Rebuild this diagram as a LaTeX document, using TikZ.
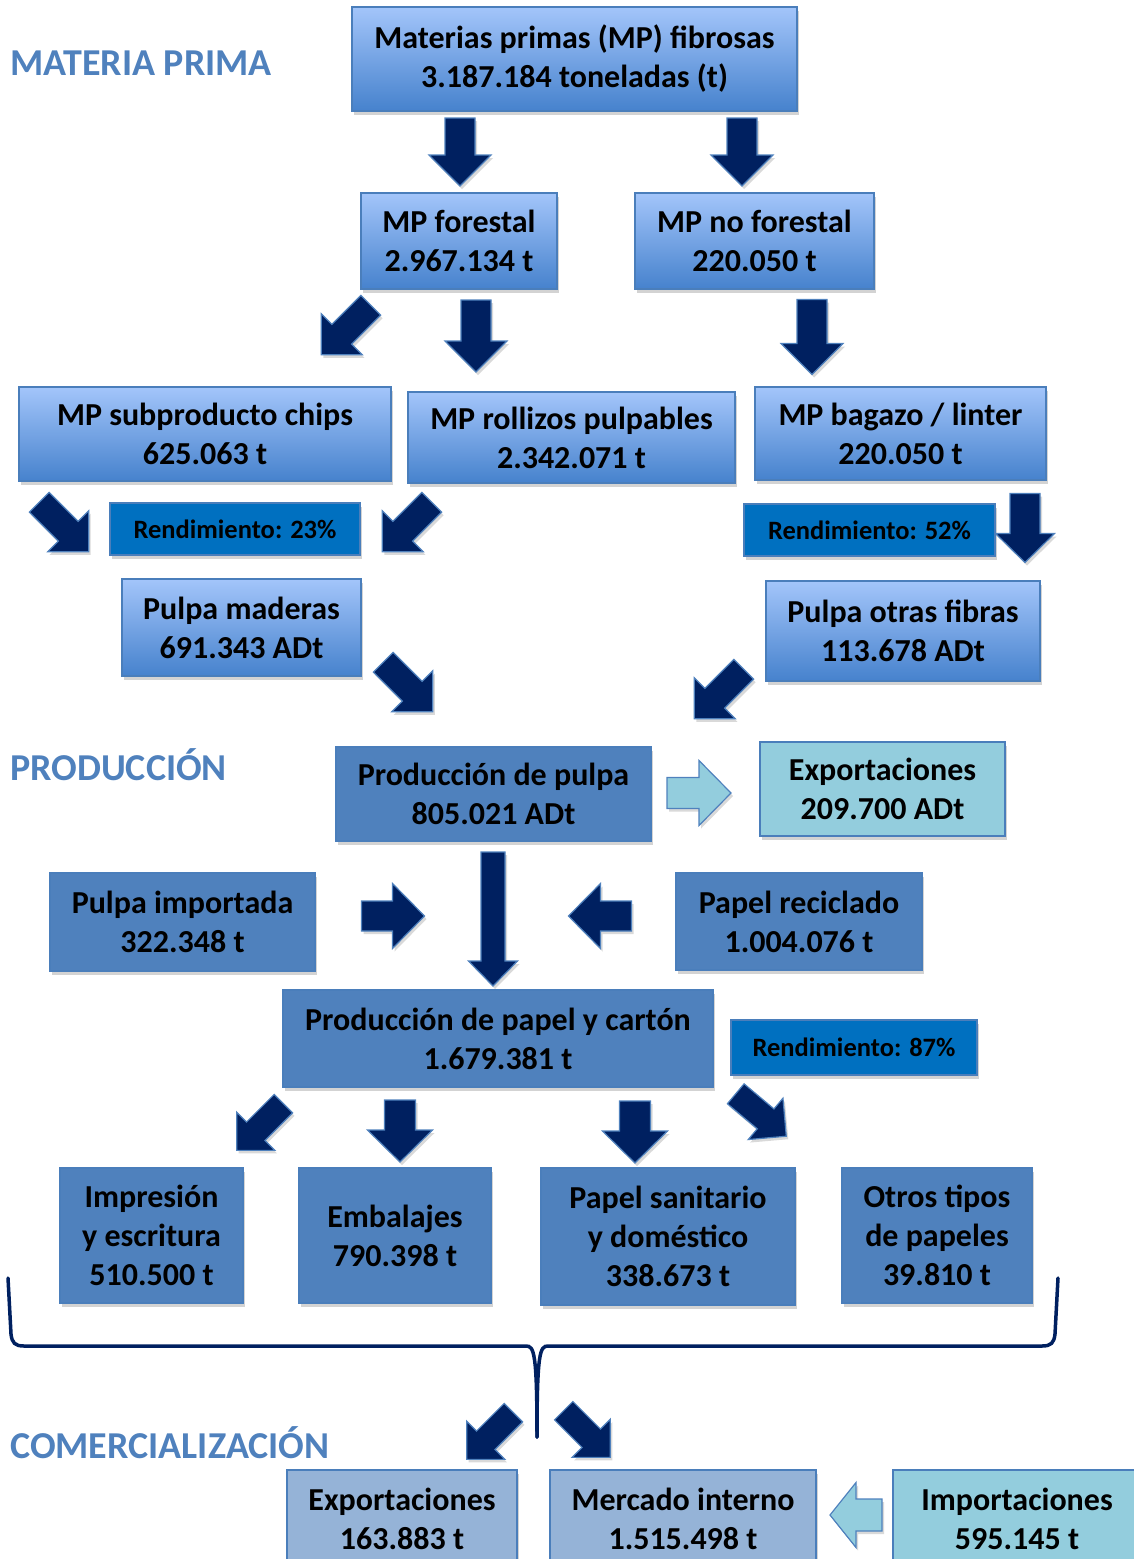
\documentclass[tikz,border=0pt]{standalone}
\usepackage{fontspec}
\setmainfont{Carlito}
\usepackage{tikz}
\usetikzlibrary{shadows}

\definecolor{edgeblue}{HTML}{4A7EBB}
\definecolor{boxblue}{HTML}{4F81BD}
\definecolor{gradtop}{HTML}{A3C5FA}
\definecolor{gradbot}{HTML}{4682CD}
\definecolor{rendblue}{HTML}{0070C0}
\definecolor{lightteal}{HTML}{93CDDD}
\definecolor{greyblue}{HTML}{95B3D7}
\definecolor{navy}{HTML}{002060}

% block arrow: style, centre, angle, length, shaft width, head width, head length
\newcommand{\blockarrow}[7]{%
  \draw[#1, shift={#2}, rotate=#3]
    (-#4/2,-#5/2) -- (#4/2-#7,-#5/2) -- (#4/2-#7,-#6/2) -- (#4/2,0)
    -- (#4/2-#7,#6/2) -- (#4/2-#7,#5/2) -- (-#4/2,#5/2) -- cycle;}

\tikzset{
  box/.style={draw=edgeblue, line width=1.2pt, align=center, inner sep=0pt,
    font=\bfseries\fontsize{32}{39}\selectfont,
    drop shadow={shadow xshift=2pt, shadow yshift=-4pt, opacity=.35}},
  gradbox/.style={box, top color=gradtop, bottom color=gradbot},
  solidbox/.style={box, fill=boxblue},
  rendbox/.style={box, fill=rendblue, font=\bfseries\fontsize{26.5}{30}\selectfont},
  tealbox/.style={box, fill=lightteal},
  greybox/.style={box, fill=greyblue},
  seclabel/.style={anchor=west, inner sep=0pt, text=boxblue,
    font=\bfseries\fontsize{38}{44}\selectfont},
  darkarrow/.style={fill=navy, draw=boxblue, line width=1.2pt,
    drop shadow={shadow xshift=2pt, shadow yshift=-3pt, opacity=.3}},
  lightarrow/.style={fill=lightteal, draw=boxblue, line width=1.2pt,
    drop shadow={shadow xshift=2pt, shadow yshift=-3pt, opacity=.3}},
  bracket/.style={draw=navy, line width=3.5pt, line cap=round}
}

\begin{document}
\begin{tikzpicture}[x=1pt, y=-1pt]
\useasboundingbox (0,0) rectangle (1134,1559);

% section titles
\node[seclabel] (tMP) at (10,63) {MATERIA PRIMA};
\node[seclabel] (tPR) at (10,765) {PRODUCCIÓN};
\node[seclabel] (tCO) at (10,1443) {COMERCIALIZACIÓN};

% materia prima
\node[gradbox, minimum width=445, minimum height=104] (mp) at (574.5,59)
  {Materias primas (MP) fibrosas\\3.187.184 toneladas (t)};
\node[gradbox, minimum width=196, minimum height=96] (forestal) at (459,241)
  {MP forestal\\2.967.134 t};
\node[gradbox, minimum width=239, minimum height=96] (noforestal) at (754.5,241)
  {MP no forestal\\220.050 t};
\node[gradbox, minimum width=372, minimum height=94] (chips) at (205,434)
  {MP subproducto chips\\625.063 t};
\node[gradbox, minimum width=327, minimum height=91] (rollizos) at (571.5,437.5)
  {MP rollizos pulpables\\2.342.071 t};
\node[gradbox, minimum width=291, minimum height=93] (bagazo) at (900.5,433.5)
  {MP bagazo / linter\\220.050 t};
\node[rendbox, minimum width=250, minimum height=52] (rendA) at (235,529)
  {Rendimiento: 23\%};
\node[rendbox, minimum width=251, minimum height=52] (rendB) at (869.5,530)
  {Rendimiento: 52\%};
\node[gradbox, minimum width=239, minimum height=97] (pmaderas) at (241.5,627.5)
  {Pulpa maderas\\691.343 ADt};
\node[gradbox, minimum width=274, minimum height=100] (potras) at (903,631)
  {Pulpa otras fibras\\113.678 ADt};

% produccion
\node[solidbox, minimum width=315, minimum height=94] (ppulpa) at (493.5,794)
  {Producción de pulpa\\805.021 ADt};
\node[tealbox, minimum width=245, minimum height=94] (expoA) at (882.5,789)
  {Exportaciones\\209.700 ADt};
\node[solidbox, minimum width=265, minimum height=98] (pimport) at (182.5,922)
  {Pulpa importada\\322.348 t};
\node[solidbox, minimum width=246, minimum height=97] (reciclado) at (799,921.5)
  {Papel reciclado\\1.004.076 t};
\node[solidbox, minimum width=430, minimum height=97] (ppapel) at (498,1038.5)
  {Producción de papel y cartón\\1.679.381 t};
\node[rendbox, minimum width=246, minimum height=55] (rendC) at (854,1047.5)
  {Rendimiento: 87\%};
\node[solidbox, minimum width=183, minimum height=135] (impresion) at (151.5,1235.5)
  {Impresión\\y escritura\\510.500 t};
\node[solidbox, minimum width=192, minimum height=135] (embalajes) at (395,1235.5)
  {Embalajes\\790.398 t};
\node[solidbox, minimum width=254, minimum height=137] (sanitario) at (668,1236.5)
  {Papel sanitario\\y doméstico\\338.673 t};
\node[solidbox, minimum width=190, minimum height=135] (otros) at (937,1235.5)
  {Otros tipos\\de papeles\\39.810 t};

% comercializacion
\node[greybox, minimum width=230, minimum height=97] (expoB) at (402,1518.5)
  {Exportaciones\\163.883 t};
\node[greybox, minimum width=266, minimum height=97] (mercado) at (683,1518.5)
  {Mercado interno\\1.515.498 t};
\node[tealbox, minimum width=248, minimum height=97] (importa) at (1017,1518.5)
  {Importaciones\\595.145 t};

% arrows
\blockarrow{darkarrow}{(460,152)}{-90}{68}{30}{62}{31}
\blockarrow{darkarrow}{(742,152)}{-90}{68}{30}{62}{31}
\blockarrow{darkarrow}{(346,330)}{-135}{70}{28}{58}{29}
\blockarrow{darkarrow}{(476,336)}{-90}{72}{30}{62}{31}
\blockarrow{darkarrow}{(812,337)}{-90}{75}{30}{62}{31}
\blockarrow{darkarrow}{(64,527)}{-45}{70}{28}{58}{29}
\blockarrow{darkarrow}{(407,527)}{-135}{70}{28}{58}{29}
\blockarrow{darkarrow}{(1025,528)}{-90}{69}{30}{59}{29}
\blockarrow{darkarrow}{(408,687)}{-45}{70}{28}{58}{29}
\blockarrow{darkarrow}{(719,694)}{-135}{70}{28}{58}{29}
\blockarrow{lightarrow}{(699,793)}{0}{64}{31}{65}{32}
\blockarrow{darkarrow}{(493,919)}{-90}{134}{24}{49}{25}
\blockarrow{darkarrow}{(393,916)}{0}{63}{30}{65}{32}
\blockarrow{darkarrow}{(600,916)}{180}{63}{30}{65}{32}
\blockarrow{darkarrow}{(260,1127)}{-135}{66}{26}{54}{27}
\blockarrow{darkarrow}{(400,1131)}{-90}{62}{31}{65}{32}
\blockarrow{darkarrow}{(635,1132)}{-90}{62}{31}{65}{32}
\blockarrow{darkarrow}{(761,1115)}{-40}{66}{26}{54}{27}
\blockarrow{darkarrow}{(490,1436)}{-135}{66}{26}{54}{27}
\blockarrow{darkarrow}{(587,1434)}{-45}{66}{26}{54}{27}
\blockarrow{lightarrow}{(856,1515)}{180}{52}{32}{65}{26}

% bracket under the paper types
\coordinate (bL) at (8,1278);
\coordinate (bR) at (1058,1278);
\coordinate (bTip) at (537,1437);
\draw[bracket] (bL) -- (11,1334) .. controls (12,1343) and (15,1346) .. (24,1346)
  -- (526,1346) .. controls (534,1346) and (537,1352) .. (bTip);
\draw[bracket] (bR) -- (1055,1334) .. controls (1054,1343) and (1051,1346) .. (1042,1346)
  -- (548,1346) .. controls (540,1346) and (537,1352) .. (bTip);
\end{tikzpicture}
\end{document}
